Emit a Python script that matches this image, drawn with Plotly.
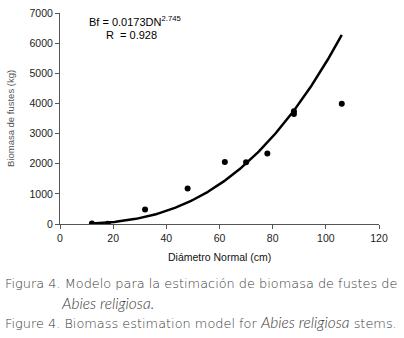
import numpy as np
import plotly.graph_objects as go

diametro = [12, 18, 32, 48, 62, 70, 78, 88, 88, 106]
biomasa = [20, 10, 480, 1180, 2060, 2050, 2340, 3650, 3740, 3990]

# Fitted model Bf = a * DN^b (coefficients printed on the chart)
coef_a = 0.0173
coef_b = 2.745
dn_min, dn_max = 12, 106

x_ticks = [0, 20, 40, 60, 80, 100, 120]
y_ticks = [0, 1000, 2000, 3000, 4000, 5000, 6000, 7000]

dn_fit = np.linspace(dn_min, dn_max, 200)
bf_fit = coef_a * dn_fit ** coef_b

W, H = 404, 338
L, R, T, B = 60, 25, 7, 114
pw, ph = W - L - R, H - T - B


def px(x):
    return (x - L) / pw


def py(y):
    return (T + ph - y) / ph


fig = go.Figure()
fig.add_trace(go.Scatter(x=dn_fit, y=bf_fit, mode="lines",
                         line=dict(color="black", width=2.5), hoverinfo="skip"))
fig.add_trace(go.Scatter(x=diametro, y=biomasa, mode="markers",
                         marker=dict(color="black", size=6)))

axis_font = dict(family="Liberation Sans, Arial", size=10.5, color="#222")
fig.update_layout(
    width=W, height=H, showlegend=False,
    margin=dict(l=L, r=R, t=T, b=B),
    paper_bgcolor="white", plot_bgcolor="white",
    xaxis=dict(range=[0, 120], tickvals=x_ticks, showgrid=False, zeroline=False,
               showline=True, linecolor="#555", linewidth=1, ticks="outside",
               ticklen=4, tickcolor="#555", tickfont=axis_font),
    yaxis=dict(range=[0, 7000], tickvals=y_ticks, showgrid=False, zeroline=False,
               showline=True, linecolor="#555", linewidth=1, ticks="outside",
               ticklen=4, tickcolor="#555", tickfont=axis_font),
)

cap_font = dict(family="DejaVu Sans", size=12.9, color="#3a3a3a", weight=200)
ital = ('<span style="font-family:\'Lato\';font-style:italic;font-weight:300;'
        'font-size:15.5px">{}</span>')
ann = [
    dict(x=px(135), y=py(15), text="Bf = 0.0173DN<sup>2.745</sup>",
         font=dict(family="Liberation Sans, Arial", size=11, color="black")),
    dict(x=px(131), y=py(30), text="R  = 0.928",
         font=dict(family="Liberation Sans, Arial", size=11, color="black")),
    dict(x=px(220), y=py(258), text="Diámetro Normal (cm)",
         font=dict(family="Liberation Sans, Arial", size=10.5, color="#111")),
    dict(x=px(10), y=py(115), text="Biomasa de fustes (kg)", textangle=-90,
         font=dict(family="Liberation Sans, Arial", size=9.5, color="#555")),
    dict(x=px(3), y=py(285), xanchor="left",
         text="Figura 4. Modelo para la estimación de biomasa de fustes de", font=cap_font),
    dict(x=px(59), y=py(305), xanchor="left",
         text=ital.format("Abies religiosa."), font=cap_font),
    dict(x=px(3), y=py(325), xanchor="left",
         text="Figure 4. Biomass estimation model for " + ital.format("Abies religiosa") + " stems.",
         font=cap_font),
]
for a in ann:
    a.setdefault("xanchor", "center")
    fig.add_annotation(xref="paper", yref="paper", showarrow=False, yanchor="middle", **a)

fig.write_html("out.html", config={"displayModeBar": False},
               post_script="document.body.style.margin='0';document.body.style.overflow='hidden';")
